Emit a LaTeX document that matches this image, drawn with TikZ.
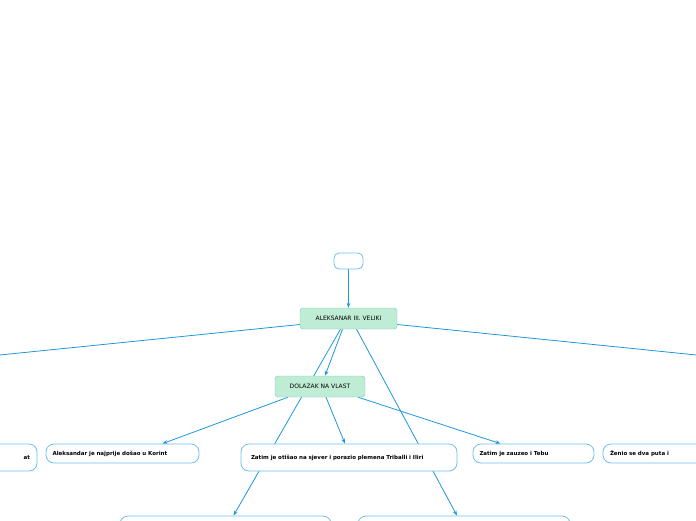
\documentclass[tikz,border=0pt]{standalone}
\usepackage{fontspec}
\setmainfont{DejaVu Sans}
\usetikzlibrary{arrows.meta, positioning, backgrounds}
\definecolor{mapblue}{RGB}{30, 150, 220}
\definecolor{boxblue}{RGB}{110, 190, 240}
\definecolor{topicgreen}{RGB}{190, 236, 212}
\definecolor{topicline}{RGB}{120, 200, 200}

\begin{document}
\begin{tikzpicture}[
    x=1pt, y=-1pt,
    topic/.style={
        rectangle,
        draw=topicline,
        fill=topicgreen,
        rounded corners=3pt,
        inner sep=0pt,
        font=\fontsize{6}{7}\selectfont
    },
    leaf/.style={
        rectangle,
        draw=boxblue,
        fill=white,
        thick,
        rounded corners=8pt,
        inner sep=0pt,
        align=left,
        text width=#1,
        font=\fontsize{5.5}{7}\bfseries\selectfont
    },
    link/.style={
        -{Stealth[length=5pt]},
        mapblue,
        thick
    }
]
\useasboundingbox (0,0) rectangle (696,520);
\clip (0,0) rectangle (696,520);

% Root and main topics
\node[topic, fill=white, draw=boxblue, thick, minimum width=29pt, minimum height=16pt, rounded corners=5pt] (root) at (348.5,261) {};
\node[topic, minimum width=97pt, minimum height=21pt] (alek) at (348.5,318.5) {ALEKSANAR III. VELIKI};
\node[topic, minimum width=90pt, minimum height=21pt] (dolazak) at (320,386.5) {DOLAZAK NA VLAST};

% Leaves
\node[leaf=100pt, minimum width=114pt, minimum height=27pt] (pogr) at (-20,457.5) {\hfill at};
\node[leaf=140pt, minimum width=153pt, minimum height=19pt] (korint) at (122.5,453.5) {Aleksandar je najprije došao u Korint};
\node[leaf=196pt, minimum width=216pt, minimum height=27pt] (sjever) at (349,457.5) {Zatim je otišao na sjever i porazio plemena Triballi i Iliri};
\node[leaf=108pt, minimum width=121pt, minimum height=19pt] (tebu) at (533.5,453.5) {Zatim je zauzeo i Tebu};
\node[leaf=140pt, minimum width=154pt, minimum height=19pt] (zenio) at (680,453.5) {Ženio se dva puta i};
\node[leaf=190pt, minimum width=211pt, minimum height=32pt] (donjiL) at (225.5,532) {};
\node[leaf=190pt, minimum width=212pt, minimum height=32pt] (donjiD) at (464,532) {};

\coordinate (leftend) at (-20,357);
\coordinate (rightend) at (716,357);

% Connectors behind the boxes
\begin{scope}[on background layer]
\draw[link] (root) -- (alek);
\draw[mapblue, thick] ([yshift=-6pt]alek.west) -- (leftend);
\draw[mapblue, thick] ([yshift=-6pt]alek.east) -- (rightend);
\draw[link] ([xshift=-6pt]alek.south) -- ([xshift=5pt]dolazak.north);
\draw[link] ([xshift=-32pt]dolazak.south) -- ([xshift=40pt]korint.north);
\draw[link] ([xshift=6pt]dolazak.south) -- ([xshift=-4pt]sjever.north);
\draw[link] ([xshift=38pt]dolazak.south) -- ([xshift=-33pt]tebu.north);
\draw[link] ([xshift=-8pt]alek.south) -- ([xshift=8pt]donjiL.north);
\draw[link] ([xshift=8pt]alek.south) -- ([xshift=-7pt]donjiD.north);
\end{scope}
\end{tikzpicture}
\end{document}
